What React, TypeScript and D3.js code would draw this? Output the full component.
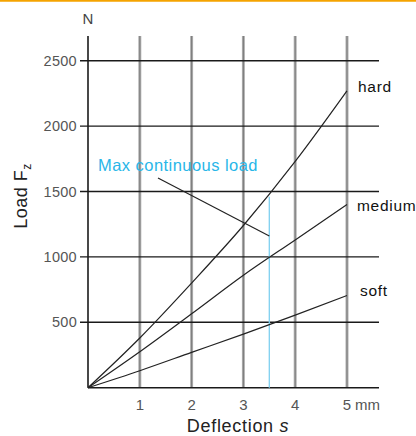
import React from "react";
import * as d3 from "d3";

const deflection = [0, 1, 2, 3, 4, 5];
const hardLoad = [0, 380, 800, 1240, 1730, 2270];
const mediumLoad = [0, 275, 565, 860, 1130, 1400];
const softLoad = [0, 130, 270, 410, 555, 705];
const seriesNames = ["hard", "medium", "soft"];
const yTicks = [500, 1000, 1500, 2000, 2500];
const xTicks = [1, 2, 3, 4, 5];
const maxContinuousDeflection = 3.5;
const maxContinuousLoad = 1460;

const W = 416;
const H = 436;
const FONT = "'Liberation Sans', Arial, sans-serif";

export default function App() {
  const x = d3.scaleLinear().domain([0, 5]).range([88, 347]);
  const y = d3.scaleLinear().domain([0, 2500]).range([387.7, 60.7]);
  const xMax = x.invert(379);
  const yMax = y.invert(36);

  const series = [hardLoad, mediumLoad, softLoad];
  const line = d3
    .line<number>()
    .x((_, i) => x(deflection[i]))
    .y((v) => y(v))
    .curve(d3.curveMonotoneX);

  const labelPos = [
    { dx: 11, dy: 1 },
    { dx: 10, dy: 6 },
    { dx: 13, dy: 1 },
  ];

  return (
    <svg
      width={W}
      height={H}
      style={{ position: "absolute", left: 0, top: 0, background: "#fff" }}
      fontFamily={FONT}
    >
      <line x1={0} x2={W} y1={0.8} y2={0.8} stroke="#f5a300" strokeWidth={2} />

      {/* vertical grid */}
      {xTicks.map((t) => (
        <g key={"vx" + t}>
          <line x1={x(t)} x2={x(t)} y1={y(yMax)} y2={y(0)} stroke="#b0b0b0" strokeWidth={3} />
          <line x1={x(t)} x2={x(t)} y1={y(yMax)} y2={y(0)} stroke="#808080" strokeWidth={1.2} />
        </g>
      ))}

      {/* horizontal grid */}
      {yTicks.map((t) => (
        <line key={"hy" + t} x1={x(0) - 8} x2={x(xMax)} y1={y(t)} y2={y(t)} stroke="#1a1a1a" strokeWidth={1.4} />
      ))}

      {/* axes */}
      <line x1={x(0)} x2={x(0)} y1={y(yMax)} y2={y(0)} stroke="#1a1a1a" strokeWidth={1.6} />
      <line x1={x(0)} x2={x(xMax)} y1={y(0)} y2={y(0)} stroke="#1a1a1a" strokeWidth={1.6} />

      {/* max continuous load */}
      <line
        x1={x(maxContinuousDeflection)}
        x2={x(maxContinuousDeflection)}
        y1={y(0)}
        y2={y(maxContinuousLoad)}
        stroke="#7fd0f0"
        strokeWidth={1.3}
      />

      {/* curves */}
      {series.map((s, i) => (
        <path key={"s" + i} d={line(s) || ""} fill="none" stroke="#222" strokeWidth={1.2} />
      ))}
      {series.map((s, i) => (
        <text
          key={"l" + i}
          x={x(5) + labelPos[i].dx}
          y={y(s[s.length - 1]) + labelPos[i].dy}
          fontSize={15.5}
          fill="#111"
          letterSpacing={0.7}
        >
          {seriesNames[i]}
        </text>
      ))}

      {/* leader line and label */}
      <line x1={158} y1={178} x2={x(maxContinuousDeflection)} y2={236} stroke="#222" strokeWidth={1.2} />
      <text x={98} y={171} fontSize={16.5} fill="#29b6e8" letterSpacing={0.45}>
        Max continuous load
      </text>

      {/* y tick labels */}
      {yTicks.map((t) => (
        <text key={"yt" + t} x={77} y={y(t) + 5} textAnchor="end" fontSize={14.5} fill="#555" letterSpacing={0.3}>
          {t}
        </text>
      ))}
      <text x={x(0)} y={24} textAnchor="middle" fontSize={15} fill="#444">
        N
      </text>

      {/* x tick labels */}
      {xTicks.map((t) => (
        <text key={"xt" + t} x={x(t)} y={410} textAnchor="middle" fontSize={15} fill="#555">
          {t}
        </text>
      ))}
      <text x={x(5) + 8} y={410} fontSize={15} fill="#555">
        mm
      </text>
      <text x={238} y={432} textAnchor="middle" fontSize={18} fill="#222" letterSpacing={0.7}>
        Deflection <tspan fontStyle="italic">s</tspan>
      </text>

      {/* y axis title */}
      <text
        transform="translate(27,196) rotate(-90)"
        textAnchor="middle"
        fontSize={18}
        fill="#222"
        letterSpacing={0.5}
      >
        Load F<tspan fontSize={12} dy={4}>z</tspan>
      </text>
    </svg>
  );
}
